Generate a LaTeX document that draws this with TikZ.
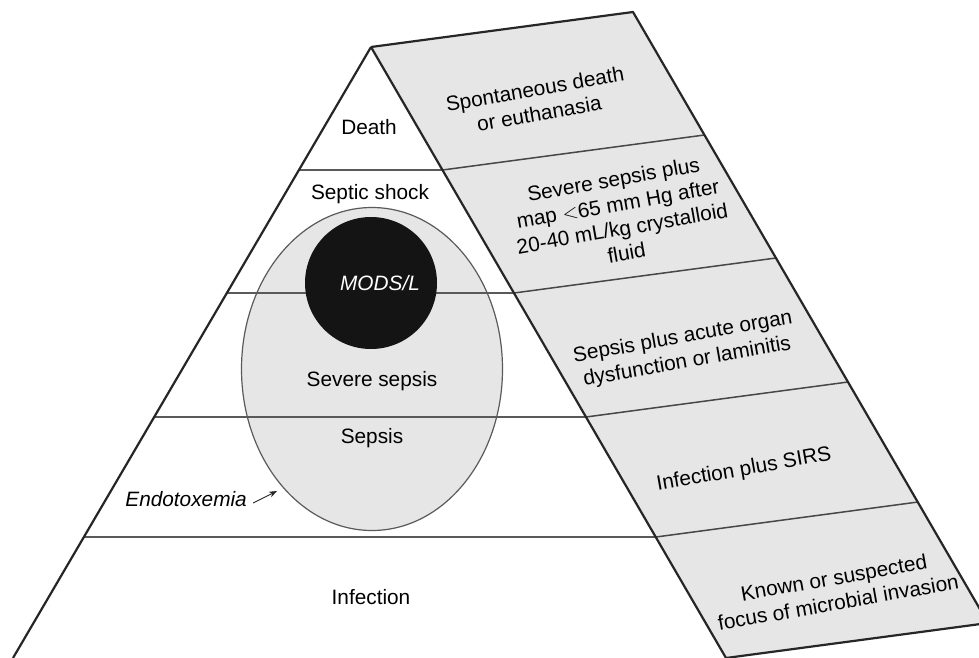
\documentclass[tikz,border=0pt]{standalone}
\usepackage{fontspec}
\setmainfont{Liberation Sans}
\usetikzlibrary{arrows.meta,shapes.geometric}
\definecolor{edge}{HTML}{262626}
\definecolor{band}{HTML}{5A5A5A}
\definecolor{panel}{HTML}{E6E6E6}
\begin{document}
\begin{tikzpicture}[x=1pt,y=-1pt,
  lbl/.style={font=\fontsize{20.8}{25}\selectfont, text=black, inner sep=0pt},
  sidelbl/.style={lbl, align=center, rotate=10},
  outline/.style={draw=edge, line width=2.2pt, line join=round},
  bandline/.style={draw=band, line width=1.2pt},
  stripline/.style={draw=edge!85, line width=1.5pt}]
\useasboundingbox (0,0) rectangle (979,658);
\clip (0,0) rectangle (979,658);
\fill[white] (0,0) rectangle (979,658);

% front face of the pyramid
\coordinate (A)  at (371,47);
\coordinate (L)  at (13,658);
\coordinate (R)  at (726,658);
% left edge points of the bands
\coordinate (l1) at (299,170);
\coordinate (l2) at (227,293);
\coordinate (l3) at (154,417);
\coordinate (l4) at (84,537);
% right edge points of the bands
\coordinate (f1) at (442.5,170);
\coordinate (f2) at (514,293);
\coordinate (f3) at (586,417);
\coordinate (f4) at (656,537);
% back edge of the side face
\coordinate (B0) at (633,12);
\coordinate (b1) at (704.5,135);
\coordinate (b2) at (776,258);
\coordinate (b3) at (848,382);
\coordinate (b4) at (918,502);
\coordinate (B5) at (988,623);

% side face
\fill[panel] (A) -- (B0) -- (B5) -- (R) -- cycle;
\draw[stripline] (f1) -- (b1);
\draw[stripline] (f2) -- (b2);
\draw[stripline] (f3) -- (b3);
\draw[stripline] (f4) -- (b4);
\draw[outline] (A) -- (B0) -- (B5) -- (R);

% front face
\fill[white] (A) -- (L) -- (R) -- cycle;

% sepsis ellipse
\node[ellipse, draw=band, line width=1.2pt, fill=panel,
      minimum width=261pt, minimum height=323pt, inner sep=0pt] (ell) at (372,369) {};

% band separators
\draw[bandline] (l1) -- (f1);
\draw[bandline] (l2) -- (f2);
\draw[bandline] (l3) -- (f3);
\draw[bandline] (l4) -- (f4);

% organ failure core
\node[circle, fill=black!92, minimum size=132pt, inner sep=0pt] (mods) at (371,283) {};
\node[lbl, text=white, font=\fontsize{20.8}{25}\selectfont\itshape] at (380,283) {MODS/L};

\draw[outline] (A) -- (L);
\draw[outline] (A) -- (R);

% stage names
\node[lbl] (death)  at (369,127) {Death};
\node[lbl] (shock)  at (370,194) {Septic shock};
\node[lbl] (severe) at (372,381) {Severe sepsis};
\node[lbl] (sepsis) at (372,438) {Sepsis};
\node[lbl] (infect) at (371,597) {Infection};
\node[lbl, font=\fontsize{20.8}{25}\selectfont\itshape, anchor=east] (endo) at (247,499) {Endotoxemia};
\coordinate (endotail) at (253,503);
\coordinate (endotip) at (277,491);
\draw[-{Stealth[length=8pt,width=6pt]}, line width=0.9pt, draw=edge] (endotail) -- (endotip);

% stage criteria
\node[sidelbl] (c1) at (537,101) {Spontaneous death\\or euthanasia};
\node[sidelbl] (c2) at (620,216) {Severe sepsis plus\\map $<$65 mm Hg after\\20-40 mL/kg crystalloid\\fluid};
\node[sidelbl] (c3) at (685,350) {Sepsis plus acute organ\\dysfunction or laminitis};
\node[sidelbl] (c4) at (744,470) {Infection plus SIRS};
\node[sidelbl] (c5) at (836,590) {Known or suspected\\focus of microbial invasion};
\end{tikzpicture}
\end{document}
